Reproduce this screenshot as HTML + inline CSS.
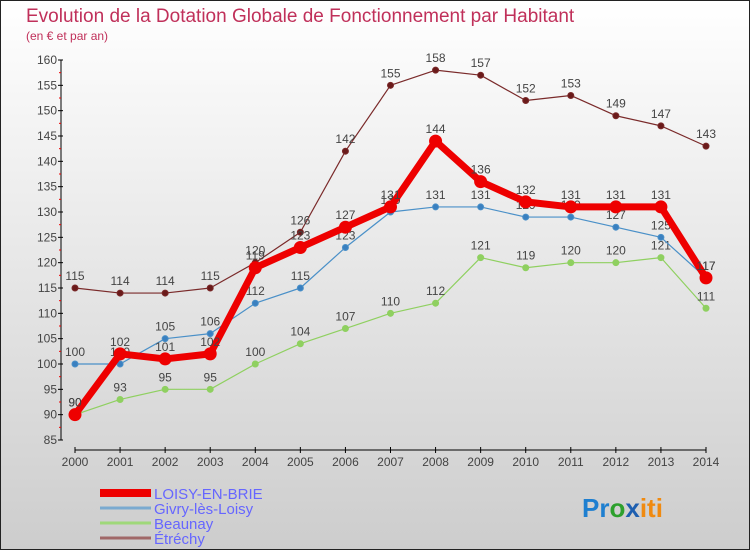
<!DOCTYPE html>
<html><head><meta charset="utf-8"><style>
body{margin:0}
#wrap{width:750px;height:550px;position:relative;overflow:hidden;font-family:"Liberation Sans",sans-serif}
</style></head><body>
<div id="wrap">
<svg id="svg" width="750" height="550" xmlns="http://www.w3.org/2000/svg">
<defs><linearGradient id="bg" x1="0" y1="0" x2="0" y2="1"><stop offset="0" stop-color="#ffffff"/><stop offset="1" stop-color="#cdcdcd"/></linearGradient></defs>
<rect x="0.5" y="0.5" width="749" height="549" fill="url(#bg)" stroke="#222"/>
<text x="26" y="22" font-size="19" fill="#c0305a">Evolution de la Dotation Globale de Fonctionnement par Habitant</text>
<text x="26" y="40" font-size="12" fill="#c0305a">(en € et par an)</text>
<g id="axes"></g><g id="series"></g>
<g>
<line x1="100" y1="493" x2="151" y2="493" stroke="#ee0000" stroke-width="8"/>
<text x="154" y="499" font-size="15" fill="#6666ff">LOISY-EN-BRIE</text>
<line x1="100" y1="508" x2="151" y2="508" stroke="#7aaad0" stroke-width="3"/>
<text x="154" y="514" font-size="15" fill="#6666ff">Givry-lès-Loisy</text>
<line x1="100" y1="523" x2="151" y2="523" stroke="#9fd87a" stroke-width="3"/>
<text x="154" y="529" font-size="15" fill="#6666ff">Beaunay</text>
<line x1="100" y1="538" x2="151" y2="538" stroke="#a06868" stroke-width="3"/>
<text x="154" y="544" font-size="15" fill="#6666ff">Étréchy</text>
</g>
<text x="582" y="517" font-size="26" font-weight="bold"><tspan fill="#1e7fd0">Pr</tspan><tspan fill="#2da02d">o</tspan><tspan fill="#1e5fb0">x</tspan><tspan fill="#f08a10">iti</tspan></text>
</svg>
</div>
<script>
const years=[2000,2001,2002,2003,2004,2005,2006,2007,2008,2009,2010,2011,2012,2013,2014];
const yTicks=[85,90,95,100,105,110,115,120,125,130,135,140,145,150,155,160];
const loisy=[90,102,101,102,119,123,127,131,144,136,132,131,131,131,117];
const givry=[100,100,105,106,112,115,123,130,131,131,129,129,127,125,117];
const beaunay=[90,93,95,95,100,104,107,110,112,121,119,120,120,121,111];
const etrechy=[115,114,114,115,120,126,142,155,158,157,152,153,149,147,143];
const NS="http://www.w3.org/2000/svg";
const X=i=>75+i*(706-75)/(years.length-1);
const Y=v=>440-(v-85)*(380/75);
function mk(t,a,p){const e=document.createElementNS(NS,t);for(const k in a)e.setAttribute(k,a[k]);p.appendChild(e);return e;}
const ax=document.getElementById('axes');
let l=mk('line',{x1:61,y1:Y(160),x2:61,y2:Y(85),stroke:'#000'},ax);


yTicks.forEach(v=>{
 mk('line',{x1:58,y1:Y(v),x2:63,y2:Y(v),stroke:'#000'},ax);
 if(v<160){mk('line',{x1:59,y1:Y(v+2.5),x2:61,y2:Y(v+2.5),stroke:'#e00'},ax);}
 const t=mk('text',{x:57,y:Y(v)+4,'font-size':12,'text-anchor':'end',fill:'#444'},ax);t.textContent=v;
 
 
});
l=mk('line',{x1:75,y1:450,x2:706,y2:450,stroke:'#000'},ax);


years.forEach((yr,i)=>{
 mk('line',{x1:X(i),y1:447,x2:X(i),y2:453,stroke:'#000'},ax);
 const t=mk('text',{x:X(i),y:466,'font-size':12,'text-anchor':'middle',fill:'#444'},ax);t.textContent=yr;
 
 
});
const sg=document.getElementById('series');
function draw(name,data,color,w,r,dot,lab){
 const g=mk('g',{},sg);
 
 
 const p=mk('polyline',{points:data.map((v,i)=>X(i)+','+Y(v)).join(' '),fill:'none',stroke:color,'stroke-width':w,'stroke-linejoin':'round'},g);
 
 
 data.forEach((v,i)=>{
  const c=mk('circle',{cx:X(i),cy:Y(v),r:r,fill:dot,stroke:color,'stroke-width':1},g);
  
  
  const t=mk('text',{x:X(i),y:Y(v)-8,'font-size':12,'text-anchor':'middle',fill:lab},g);t.textContent=v;
  
  
 });
}
draw('etrechy',etrechy,'#7a2a2a',1.2,3,'#6a1a1a','#444');
draw('beaunay',beaunay,'#8fd060',1.2,3,'#8fd060','#444');
draw('givry',givry,'#4a90c8',1.2,3,'#3a80c0','#444');
draw('loisy',loisy,'#ee0000',7,6,'#ee0000','#444');
</script>
</body></html>
